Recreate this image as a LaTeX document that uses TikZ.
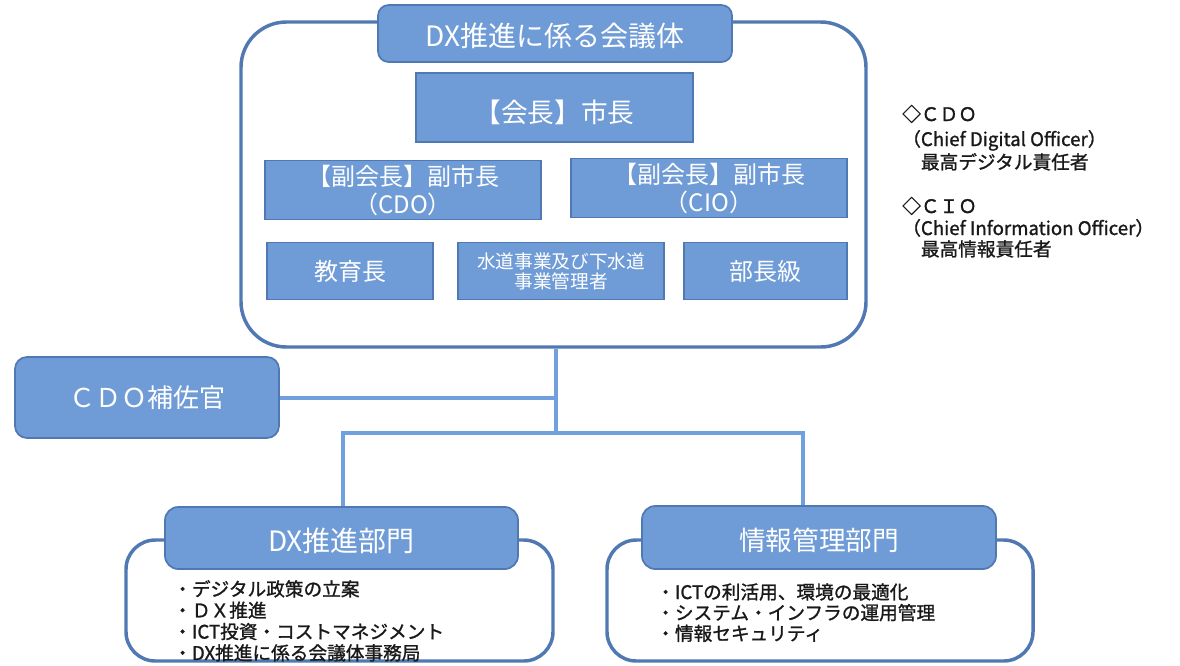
\documentclass[tikz,border=0pt]{standalone}
\usepackage{fontspec}
\setmainfont{Noto Sans CJK JP}
\newfontfamily\boldish[FakeBold=1.2]{Noto Sans CJK JP}
\definecolor{boxfill}{RGB}{111,156,214}
\definecolor{boxline}{RGB}{80,120,178}
\definecolor{wire}{RGB}{112,160,222}
\definecolor{ink}{RGB}{25,25,25}
\newcommand{\fs}[2]{\fontsize{#1}{#2}\selectfont}
\newcommand{\lowered}[2]{\raisebox{-#1}[\height][\depth]{#2}}
\begin{document}
\begin{tikzpicture}[x=0.75pt,y=-0.75pt,
  sz/.style 2 args={minimum width=#1*0.75pt, minimum height=#2*0.75pt},
  frame/.style={draw=boxline, line width=2.6pt, rounded corners=#1, fill=white, inner sep=0pt},
  tab/.style={draw=boxline, line width=1.3pt, fill=boxfill, rounded corners=8pt, inner sep=0pt, text=white, align=center},
  member/.style={draw=boxline, line width=1.3pt, fill=boxfill, inner sep=0pt, text=white, align=center},
  wireline/.style={draw=wire, line width=3pt},
  note/.style={anchor=base west, inner sep=0pt, text=ink, font=\boldish\fs{14}{17}},
]
\useasboundingbox (0,0) rectangle (1180,665);

% council frame
\node[frame=34pt, sz={625}{325}] (council) at (553.5,184.5) {};
\node[tab, sz={354}{57}, font=\fs{21}{24}] (ctitle) at (555,33.5) {\lowered{2pt}{DX推進に係る会議体}};
\node[member, sz={277}{69}, font=\fs{20}{22}] (chair) at (554.5,107.5) {\lowered{4pt}{【会長】市長}};
\node[member, sz={276}{59}, font=\fs{18}{21}] (vcdo) at (403,190) {【副会長】副市長\\（CDO）};
\node[member, sz={276}{59}, font=\fs{18}{21}] (vcio) at (709,188) {【副会長】副市長\\（CIO）};
\node[member, sz={166}{57}, font=\fs{18}{20}] (edu) at (350,271) {教育長};
\node[member, sz={206}{57}, font=\fs{14}{15}] (water) at (561,271) {水道事業及び下水道\\事業管理者};
\node[member, sz={163}{57}, font=\fs{18}{20}] (bucho) at (765.5,271) {部長級};

% CDO assistant
\node[tab, rounded corners=9pt, sz={264}{81}, font=\fs{19.5}{22}] (cdo) at (147,397.5) {ＣＤＯ補佐官};

% legend
\node[note] (l1) at (902,121) {◇ＣＤＯ};
\node[note] (l2) at (902,146) {（Chief Digital Officer）};
\node[note] (l3) at (902,169) {　最高デジタル責任者};
\node[note] (l4) at (902,213) {◇ＣＩＯ};
\node[note] (l5) at (902,235) {（Chief Information Officer）};
\node[note] (l6) at (902,256) {　最高情報責任者};

% bottom frames
\node[frame=22pt, sz={427}{121}] (dxframe) at (339.5,600.5) {};
\node[tab, rounded corners=10pt, sz={353}{62}, font=\fs{21}{24}] (dxtab) at (341.5,538) {\lowered{2pt}{DX推進部門}};
\node[frame=22pt, sz={426}{121}] (itframe) at (820,600.5) {};
\node[tab, rounded corners=10pt, sz={354}{63}, font=\fs{20}{24}] (ittab) at (819,537.5) {\lowered{2pt}{情報管理部門}};

% bullets
\foreach \t [count=\i] in {・デジタル政策の立案, ・ＤＸ推進, ・ICT投資・コストマネジメント, ・DX推進に係る会議体事務局}
  \node[note] (dx\i) at (173,{596+(\i-1)*21.3}) {\t};
\foreach \t [count=\i] in {・ICTの利活用、環境の最適化, ・システム・インフラの運用管理, ・情報セキュリティ}
  \node[note] (it\i) at (656,{599+(\i-1)*20.7}) {\t};

% connectors
\coordinate (j1) at (556,433);
\coordinate (j2) at (803,433);
\coordinate (j3) at (343,433);
\draw[wireline] (council.south -| j1) -- (j1);
\draw[wireline] (cdo.east) -- (cdo.east -| j1);
\draw[wireline] (j3 |- dxtab.north) -- (j3) -- (j2) -- (j2 |- ittab.north);
\end{tikzpicture}
\end{document}
